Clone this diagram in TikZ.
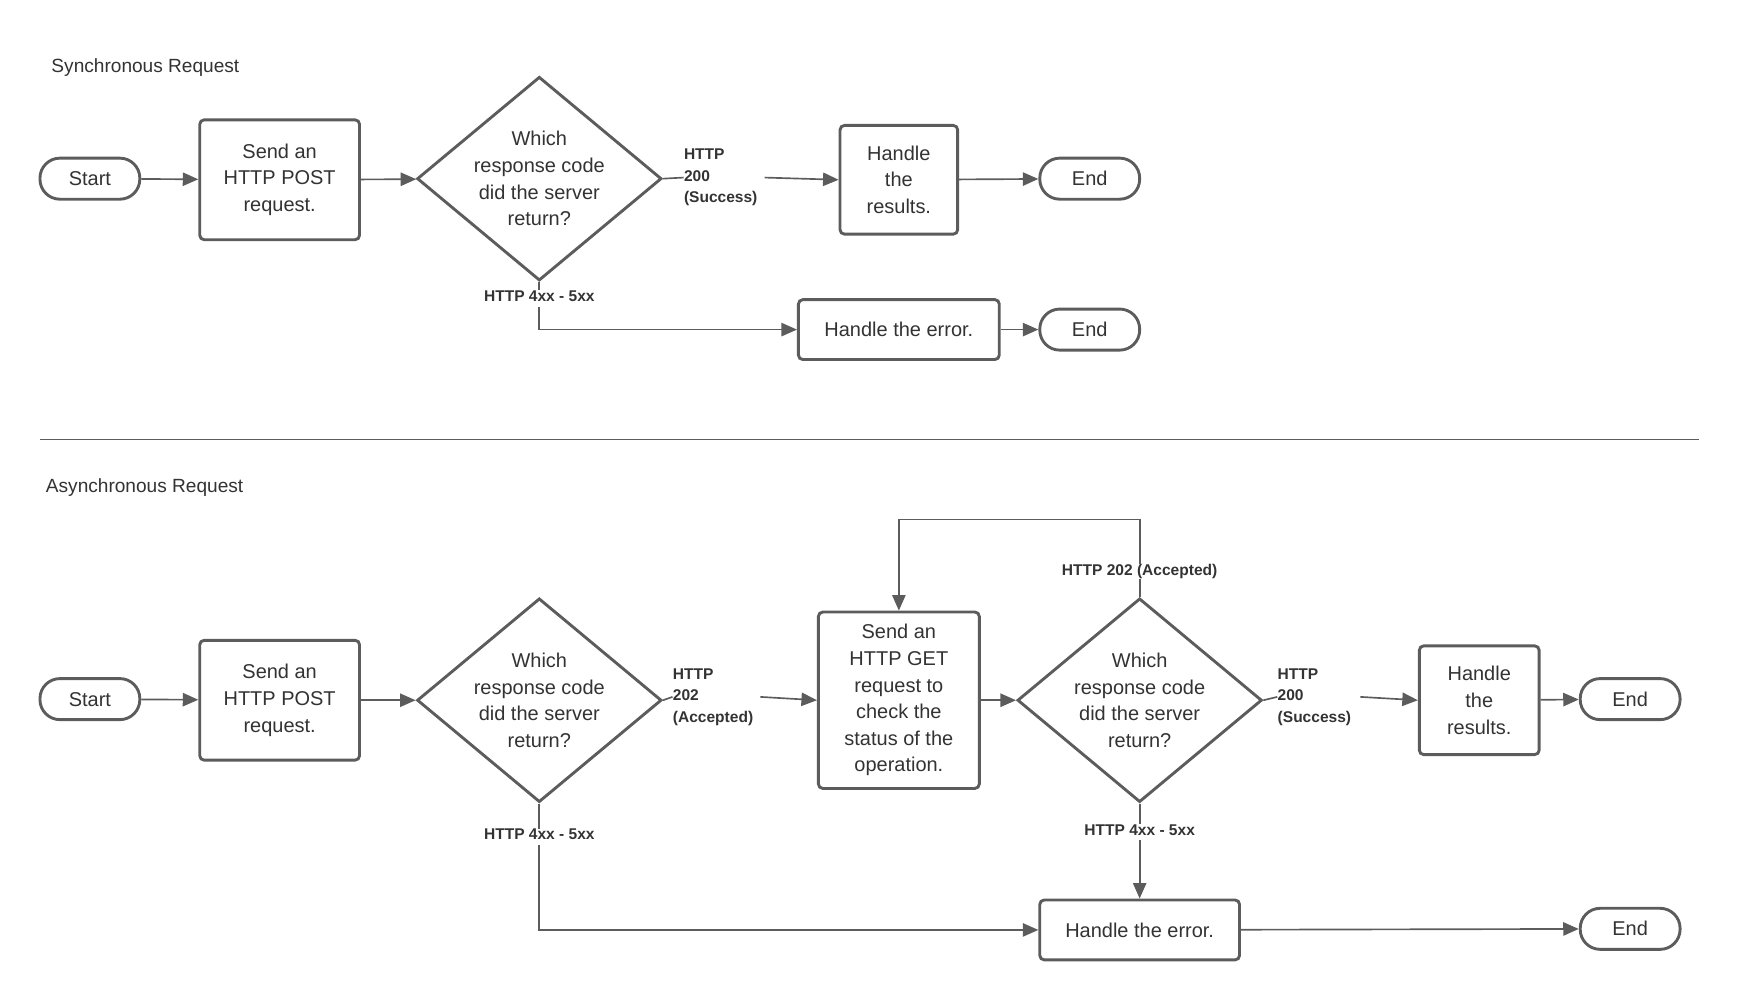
\documentclass[tikz,border=0pt]{standalone}
\usepackage{fontspec}
\setmainfont{Liberation Sans}
\usetikzlibrary{shapes.geometric,arrows.meta}
\definecolor{ln}{HTML}{5C5C5C}
\definecolor{tx}{HTML}{333333}
\begin{document}
\begin{tikzpicture}[x=0.5pt,y=-0.5pt,
  every node/.style={text=tx},
  base/.style={draw=ln,line width=1.3pt,fill=white,align=center,font=\fontsize{9}{12}\selectfont,inner sep=0pt},
  term/.style={base,rounded corners=9pt,minimum width=45pt,minimum height=18.5pt},
  box/.style={base,rounded corners=2pt},
  dia/.style={base,diamond,minimum width=106.5pt,minimum height=88.5pt,aspect=1.2},
  lab/.style={font=\bfseries\fontsize{7}{9.7}\selectfont,inner sep=0pt,align=left},
  ttl/.style={font=\fontsize{8.6}{10}\selectfont,anchor=west,inner sep=0pt},
  con/.style={draw=ln,line width=0.75pt},
  arr/.style={con,-{Triangle[length=7pt,width=6pt]}}]
\useasboundingbox (0,0) rectangle (1568,901);
% Synchronous
\node[ttl] (t1) at (46,61) {Synchronous Request};
\node[term] (s1) at (81,161) {Start};
\node[box,minimum width=72pt,minimum height=54pt] (p1) at (252,162) {Send an\\HTTP POST\\request.};
\node[dia] (d1) at (486,161) {Which\\response code\\did the server\\return?};
\node[lab,anchor=west] (l1) at (616,160) {HTTP\\200\\(Success)};
\node[box,minimum width=53pt,minimum height=49pt] (r1) at (810,162) {Handle\\the\\results.};
\node[term] (e1) at (982,161) {End};
\node[lab] (l2) at (486,267) {HTTP 4xx - 5xx};
\node[box,minimum width=90.5pt,minimum height=27pt] (h1) at (810,297) {Handle the error.};
\node[term] (e2) at (982,297) {End};
\draw[arr] (s1) -- (p1);
\draw[arr] (p1) -- (d1);
\draw[con] (d1.east) -- (l1.west);
\draw[arr] (l1.east) ++(6,0) -- (r1.west);
\draw[arr] (r1) -- (e1);
\draw[con] (d1.south) -- (l2.north);
\draw[arr] (l2.south) ++(0,4) |- (h1.west);
\draw[arr] (h1) -- (e2);
\draw[draw=ln,line width=0.75pt] (36,396) coordinate (sa) -- (1531,396) coordinate (sb);
% Asynchronous
\node[ttl] (t2) at (41,439) {Asynchronous Request};
\node[term] (s2) at (81,630) {Start};
\node[box,minimum width=72pt,minimum height=54pt] (p2) at (252,631) {Send an\\HTTP POST\\request.};
\node[dia] (d2) at (486,631) {Which\\response code\\did the server\\return?};
\node[lab,anchor=west] (l3) at (606,628) {HTTP\\202\\(Accepted)};
\node[box,minimum width=72.5pt,minimum height=79.5pt] (g2) at (810,631) {Send an\\HTTP GET\\request to\\check the\\status of the\\operation.};
\node[dia] (d3) at (1027,631) {Which\\response code\\did the server\\return?};
\node[lab,anchor=west] (l4) at (1151,628) {HTTP\\200\\(Success)};
\node[box,minimum width=54pt,minimum height=49pt] (r2) at (1333,631) {Handle\\the\\results.};
\node[term] (e3) at (1469,630) {End};
\node[lab] (l5) at (1027,515) {HTTP 202 (Accepted)};
\coordinate (c1) at (1027,468);
\node[lab] (l6) at (486,752) {HTTP 4xx - 5xx};
\node[lab] (l7) at (1027,748) {HTTP 4xx - 5xx};
\node[box,minimum width=90pt,minimum height=27pt] (h2) at (1027,838) {Handle the error.};
\node[term] (e4) at (1469,837) {End};
\draw[arr] (s2) -- (p2);
\draw[arr] (p2) -- (d2);
\draw[con] (d2.east) -- (l3.west);
\draw[arr] (l3.east) ++(6,0) -- (g2.west);
\draw[arr] (g2) -- (d3);
\draw[con] (d3.east) -- (l4.west);
\draw[arr] (l4.east) ++(8,0) -- (r2.west);
\draw[arr] (r2) -- (e3);
\draw[con] (d3.north) -- (l5.south);
\draw[arr] (l5.north) -- (c1) -| (g2.north);
\draw[con] (d2.south) -- (l6.north);
\draw[arr] (l6.south) ++(0,4) |- (h2.west);
\draw[con] (d3.south) -- (l7.north);
\draw[arr] (l7.south) ++(0,4) -- (h2.north);
\draw[arr] (h2) -- (e4);
\end{tikzpicture}
\end{document}
